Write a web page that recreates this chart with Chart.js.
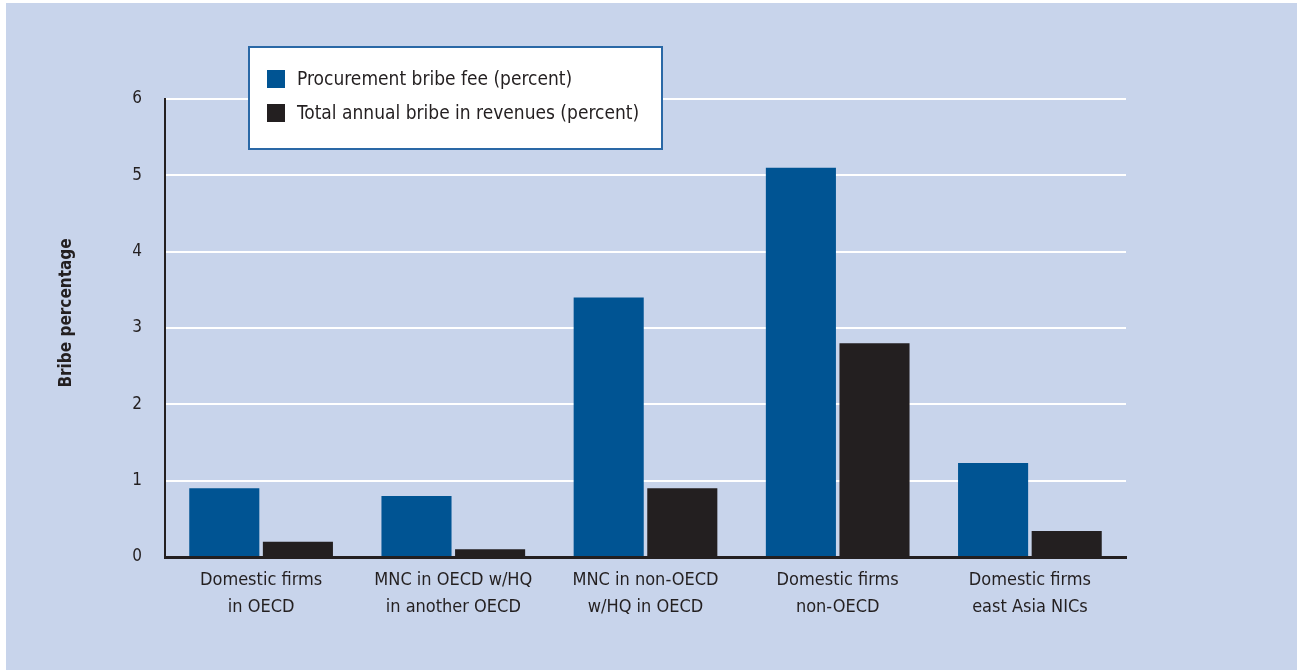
<!DOCTYPE html>
<html>
<head>
<meta charset="utf-8">
<script src="https://cdn.jsdelivr.net/npm/chart.js@4/dist/chart.umd.min.js"></script>
<style>
  html, body { margin: 0; padding: 0; background: #ffffff; }
  #wrap {
    position: absolute; left: 6px; top: 3px;
    width: 1291px; height: 667px;
    background: #c8d4eb;
  }
</style>
</head>
<body>
<div id="wrap"><canvas id="chartCanvas"></canvas></div>
<script>
const categories = [
    ["Domestic firms", "in OECD"],
    ["MNC in OECD w/HQ", "in another OECD"],
    ["MNC in non-OECD", "w/HQ in OECD"],
    ["Domestic firms", "non-OECD"],
    ["Domestic firms", "east Asia NICs"]
];
const procurementFee = [0.9, 0.8, 3.4, 5.1, 1.23];
const annualBribe = [0.2, 0.1, 0.9, 2.8, 0.34];
const yTicks = [0, 1, 2, 3, 4, 5, 6];
const seriesNames = ["Procurement bribe fee (percent)", "Total annual bribe in revenues (percent)"];
const yTitle = "Bribe percentage";

const FONT = "'DejaVu Sans Condensed', 'DejaVu Sans', sans-serif";
const INK = "#231f20";

// legend in a white box, drawn over the plot
const boxLegend = {
    id: "boxLegend",
    afterDraw(chart) {
        const ctx = chart.ctx;
        ctx.save();
        ctx.fillStyle = "#ffffff";
        ctx.fillRect(243, 44, 413, 102);
        ctx.strokeStyle = "#2a68a6";
        ctx.lineWidth = 2;
        ctx.strokeRect(243, 44, 413, 102);
        ctx.font = "19px " + FONT;
        ctx.textBaseline = "middle";
        chart.data.datasets.forEach((ds, i) => {
            const y = 76 + i * 34;
            ctx.fillStyle = ds.backgroundColor;
            ctx.fillRect(261, y - 9, 18, 18);
            ctx.fillStyle = INK;
            ctx.fillText(ds.label, 291, y + 1);
        });
        ctx.restore();
    }
};

// rotated axis title
const sideTitle = {
    id: "sideTitle",
    afterDraw(chart) {
        const ctx = chart.ctx;
        ctx.save();
        ctx.translate(65, 310);
        ctx.rotate(-Math.PI / 2);
        ctx.font = "bold 17px " + FONT;
        ctx.fillStyle = INK;
        ctx.textAlign = "center";
        ctx.textBaseline = "alphabetic";
        ctx.fillText(yTitle, 0, 0);
        ctx.restore();
    }
};

const ctx = document.getElementById("chartCanvas").getContext("2d");
new Chart(ctx, {
    type: "bar",
    data: {
        labels: categories,
        datasets: [
            { label: seriesNames[0], data: procurementFee, backgroundColor: "#005493" },
            { label: seriesNames[1], data: annualBribe, backgroundColor: INK }
        ]
    },
    options: {
        responsive: true,
        maintainAspectRatio: false,
        animation: false,
        categoryPercentage: 0.766,
        barPercentage: 0.952,
        layout: { padding: { top: 96, right: 171, bottom: 0, left: 0 } },
        plugins: {
            legend: { display: false },
            tooltip: { enabled: false }
        },
        scales: {
            x: {
                grid: { display: false, drawTicks: false },
                border: { color: INK, width: 3 },
                ticks: {
                    color: INK,
                    padding: 10,
                    maxRotation: 0,
                    font: { family: FONT, size: 18, lineHeight: 1.5 }
                },
                afterFit: s => { s.height = 113; }
            },
            y: {
                min: 0,
                max: 6,
                afterBuildTicks: s => { s.ticks = yTicks.map(v => ({ value: v })); },
                grid: { color: "#ffffff", lineWidth: 2, drawTicks: false },
                border: { color: INK, width: 2 },
                ticks: {
                    color: INK,
                    padding: 23,
                    font: { family: FONT, size: 17 }
                },
                afterFit: s => { s.width = 159; }
            }
        }
    },
    plugins: [boxLegend, sideTitle]
});
</script>
</body>
</html>
